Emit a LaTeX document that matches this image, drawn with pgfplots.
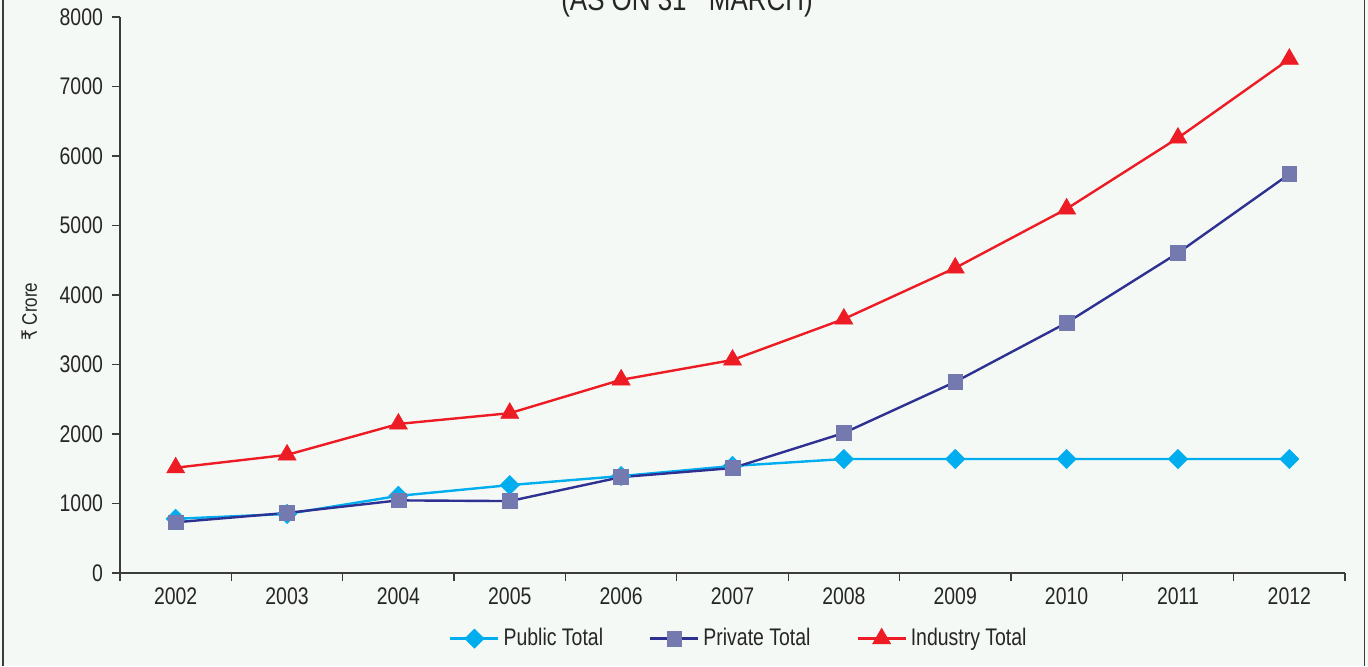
\documentclass[border=0pt]{standalone}
\usepackage{fontspec}
\setmainfont{Liberation Sans}[FakeStretch=0.81]
\newfontfamily\rupee{DejaVu Sans}[FakeStretch=0.81]
\usepackage{pgfplots}
\pgfplotsset{compat=1.18}
\definecolor{bg}{RGB}{245,249,246}
\definecolor{pubc}{RGB}{0,174,239}
\definecolor{privl}{RGB}{46,49,146}
\definecolor{privm}{RGB}{116,121,176}
\definecolor{indc}{RGB}{237,28,36}
\definecolor{axc}{RGB}{60,60,60}
\begin{document}
\begin{tikzpicture}
\fill[bg] (0,0) rectangle (684pt,333pt);
\draw[axc, line width=0.8pt] (1.5pt,0) -- (1.5pt,333pt);
\draw[axc, line width=0.8pt] (682.2pt,0) -- (682.2pt,333pt);
\node[anchor=base, font=\fontsize{16}{19}\selectfont, text=black!85] at (343.5pt,327.5pt) {(AS ON 31\textsuperscript{st} MARCH)};
\begin{axis}[
  at={(60pt,46.5pt)}, anchor=south west,
  scale only axis, width=612.5pt, height=278pt,
  xmin=-0.5, xmax=10.5, ymin=0, ymax=8000,
  axis lines*=left,
  axis line style={axc, line width=0.6pt},
  xtick={0,...,10},
  xticklabels={2002,2003,2004,2005,2006,2007,2008,2009,2010,2011,2012},
  minor xtick={-0.5,0.5,...,10.5},
  ytick={0,1000,...,8000},
  tick align=outside,
  major x tick style={draw=none},
  minor x tick style={axc, line width=0.6pt},
  major y tick style={axc, line width=0.6pt},
  major tick length=4pt, minor tick length=4pt,
  /pgf/number format/assume math mode=true,
  /pgf/number format/set thousands separator={},
  ticklabel style={font=\fontsize{12}{14}\selectfont, text=black!85},
  xticklabel style={yshift=0pt},
  yticklabel style={xshift=-1pt},
  ylabel={{\rupee ₹} Crore},
  ylabel style={at={(axis description cs:-0.074,0.47)}, anchor=center, font=\fontsize{10.5}{12}\selectfont, text=black!85},
  legend columns=3,
  legend style={draw=none, fill=none, at={(0.506,-0.118)}, anchor=center,
    font=\fontsize{12}{14}\selectfont, text=black!85,
    /tikz/every even column/.style={column sep=21pt}},
  legend image code/.code={\draw[mark repeat=2,mark phase=2] plot coordinates {(0pt,0pt) (12pt,0pt) (24pt,0pt)};},
  every axis plot/.append style={line width=1.2pt},
]
\addplot[color=pubc, mark=square*, mark size=3.4pt, mark options={rotate=45, fill=pubc, draw=pubc, line width=0.3pt}] coordinates {
(0,780) (1,850) (2,1110) (3,1265) (4,1395) (5,1540) (6,1640) (7,1640) (8,1640) (9,1640) (10,1640)};
\addlegendentry{Public Total}
\addplot[color=privl, mark=square*, mark size=3.7pt, mark options={fill=privm, draw=privm, line width=0.3pt}] coordinates {
(0,730) (1,865) (2,1045) (3,1035) (4,1380) (5,1510) (6,2015) (7,2750) (8,3600) (9,4605) (10,5740)};
\addlegendentry{Private Total}
\addplot[color=indc, mark=triangle*, mark size=5.2pt, mark options={fill=indc, draw=indc, line width=0.3pt}] coordinates {
(0,1515) (1,1700) (2,2145) (3,2300) (4,2780) (5,3065) (6,3655) (7,4390) (8,5240) (9,6260) (10,7395)};
\addlegendentry{Industry Total}
\end{axis}
\pgfresetboundingbox
\useasboundingbox (0,0) rectangle (684pt,333pt);
\end{tikzpicture}
\end{document}
